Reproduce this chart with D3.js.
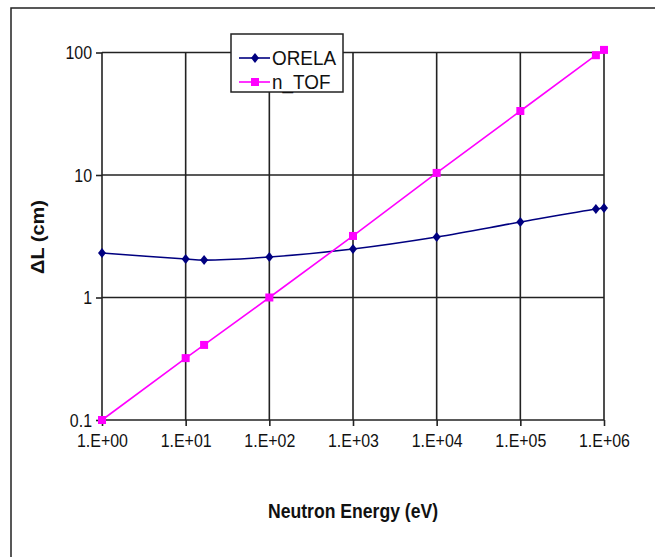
<!DOCTYPE html>
<html>
<head>
<meta charset="utf-8">
<script src="https://cdn.jsdelivr.net/npm/d3@7"></script>
<style>
  body { margin: 0; background: #fff; }
  text { font-family: "Liberation Sans", Arial, sans-serif; }
</style>
</head>
<body>
<div id="viz"></div>
<script>
(() => {
  // energies in eV
  let energies = [1, 10, 16.6, 100, 1000, 1e4, 1e5, 8e5, 1e6];
  let orela = [2.31, 2.06, 2.02, 2.14, 2.49, 3.12, 4.13, 5.28, 5.38];
  let ntof = [0.1, 0.32, 0.41, 1.0, 3.18, 10.4, 33.3, 95, 105];

  let xTicks = [1, 10, 100, 1000, 1e4, 1e5, 1e6];
  let xTickLabels = ['1.E+00', '1.E+01', '1.E+02', '1.E+03', '1.E+04', '1.E+05', '1.E+06'];
  let yTicks = [0.1, 1, 10, 100];
  let yTickLabels = ['0.1', '1', '10', '100'];

  let seriesNames = ['ORELA', 'n_TOF'];

  let width = 655,
    height = 557;

  // horizontal squeeze to mimic the narrow font of the original
  let squeeze = 0.84;

  let svg = d3.select('#viz')
    .append('svg')
    .attr('width', width)
    .attr('height', height);

  // outer frame
  svg.append('rect')
    .attr('x', 11)
    .attr('y', 8)
    .attr('width', 660)
    .attr('height', 570)
    .style('fill', 'none')
    .style('stroke', '#222')
    .style('stroke-width', 1.5);

  let x = d3.scaleLog()
    .domain([1, 1e6])
    .range([102, 604]);

  let y = d3.scaleLog()
    .domain([0.1, 100])
    .range([420, 52.5]);

  // grid
  svg.append('g')
    .selectAll('line')
    .data(yTicks)
    .join('line')
    .attr('x1', x(1))
    .attr('x2', x(1e6))
    .attr('y1', d => y(d))
    .attr('y2', d => y(d))
    .style('stroke', '#222')
    .style('stroke-width', 1.6);

  svg.append('g')
    .selectAll('line')
    .data(xTicks)
    .join('line')
    .attr('x1', d => x(d))
    .attr('x2', d => x(d))
    .attr('y1', y(100))
    .attr('y2', y(0.1))
    .style('stroke', '#222')
    .style('stroke-width', 1.6);

  // axes
  let yAxis = svg.append('g')
    .attr('transform', `translate(${x(1)},0)`)
    .call(d3.axisLeft(y)
      .tickValues(yTicks)
      .tickFormat((d, i) => yTickLabels[i])
      .tickSize(6)
      .tickPadding(4));

  let xAxis = svg.append('g')
    .attr('transform', `translate(0,${y(0.1)})`)
    .call(d3.axisBottom(x)
      .tickValues(xTicks)
      .tickFormat((d, i) => xTickLabels[i])
      .tickSize(6)
      .tickPadding(8));

  [xAxis, yAxis].forEach(ax => {
    ax.select('.domain').remove();
    ax.selectAll('line').style('stroke', '#222').style('stroke-width', 1.6);
    ax.selectAll('text')
      .style('font-size', '19px')
      .style('font-family', '"Liberation Sans", Arial, sans-serif')
      .style('fill', '#111')
      .attr('x', function() { return +d3.select(this).attr('x') / squeeze; })
      .attr('transform', `scale(${squeeze},1)`);
  });

  // series
  let orelaData = energies.map((e, i) => ({ e: e, v: orela[i] }));
  let ntofData = energies.map((e, i) => ({ e: e, v: ntof[i] }));

  svg.append('path')
    .datum(orelaData)
    .attr('d', d3.line()
      .x(d => x(d.e))
      .y(d => y(d.v))
      .curve(d3.curveCatmullRom.alpha(0.5)))
    .style('fill', 'none')
    .style('stroke', '#000080')
    .style('stroke-width', 1.6);

  svg.append('path')
    .datum(ntofData)
    .attr('d', d3.line()
      .x(d => x(d.e))
      .y(d => y(d.v)))
    .style('fill', 'none')
    .style('stroke', '#ff00ff')
    .style('stroke-width', 1.6);

  let diamond = 'M0,-5L4,0L0,5L-4,0Z';

  svg.append('g')
    .selectAll('path')
    .data(orelaData)
    .join('path')
    .attr('d', diamond)
    .attr('transform', d => `translate(${x(d.e)},${y(d.v)})`)
    .style('fill', '#000080');

  svg.append('g')
    .selectAll('rect')
    .data(ntofData)
    .join('rect')
    .attr('x', d => x(d.e) - 4)
    .attr('y', d => y(d.v) - 4)
    .attr('width', 8)
    .attr('height', 8)
    .style('fill', '#ff00ff');

  // axis titles
  svg.append('text')
    .attr('transform', `translate(353,518) scale(0.88,1)`)
    .attr('text-anchor', 'middle')
    .style('font-size', '20px')
    .style('font-weight', 'bold')
    .style('fill', '#111')
    .text('Neutron Energy (eV)');

  svg.append('text')
    .attr('transform', 'translate(44,237) rotate(-90) scale(1.05,1)')
    .attr('text-anchor', 'middle')
    .style('font-size', '19px')
    .style('font-weight', 'bold')
    .style('fill', '#111')
    .text('\u0394L (cm)');

  // legend
  let legend = svg.append('g');

  legend.append('rect')
    .attr('x', 231)
    .attr('y', 34)
    .attr('width', 112)
    .attr('height', 58)
    .style('fill', '#fff')
    .style('stroke', '#222')
    .style('stroke-width', 1.5);

  let legendColors = ['#000080', '#ff00ff'];

  seriesNames.forEach((name, i) => {
    let ly = 58 + i * 24;
    legend.append('line')
      .attr('x1', 239)
      .attr('x2', 270)
      .attr('y1', ly)
      .attr('y2', ly)
      .style('stroke', legendColors[i])
      .style('stroke-width', 1.6);

    if (i === 0) {
      legend.append('path')
        .attr('d', diamond)
        .attr('transform', `translate(255,${ly})`)
        .style('fill', legendColors[i]);
    } else {
      legend.append('rect')
        .attr('x', 251)
        .attr('y', ly - 4)
        .attr('width', 8)
        .attr('height', 8)
        .style('fill', legendColors[i]);
    }

    legend.append('text')
      .attr('transform', `translate(272,${ly + 7}) scale(0.9,1)`)
      .style('font-size', '21px')
      .style('fill', '#111')
      .text(name);
  });
})();
</script>
</body>
</html>
